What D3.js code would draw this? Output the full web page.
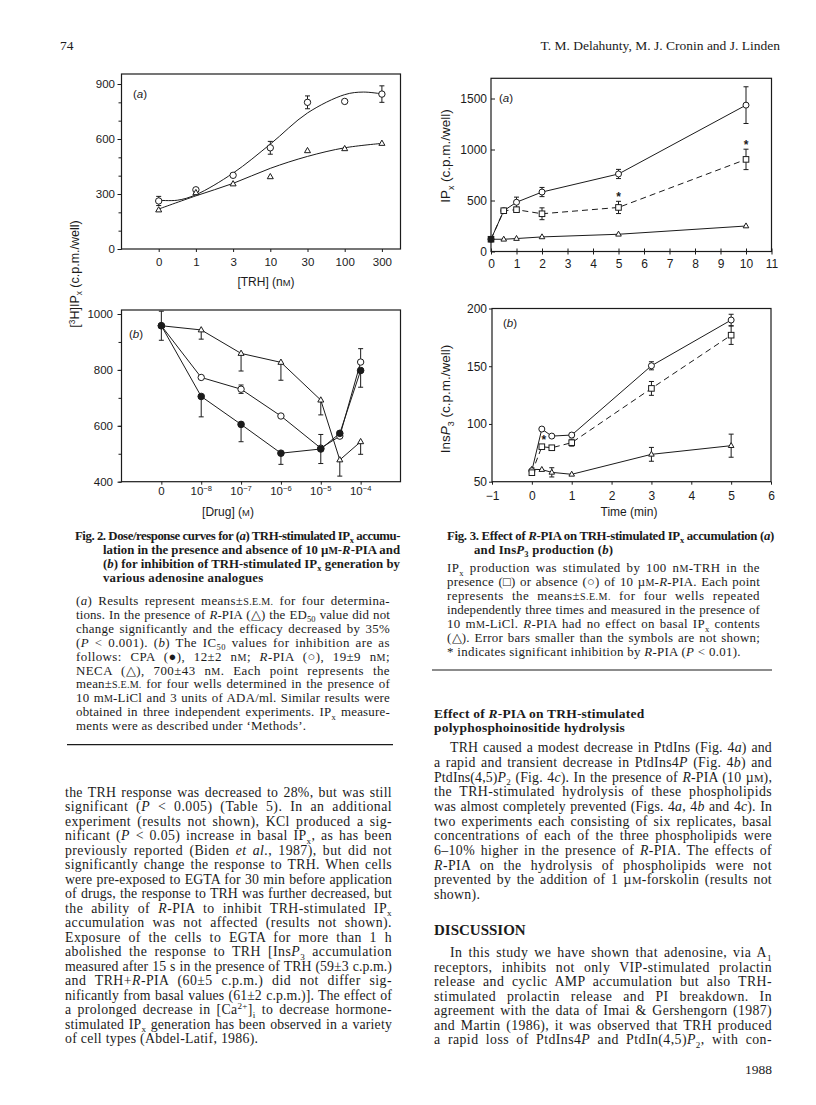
<!DOCTYPE html>
<html><head><meta charset="utf-8">
<script src="https://cdn.jsdelivr.net/npm/d3@7"></script>
<style>
body{margin:0;background:#fff}
svg{display:block;background:#fff}
</style></head><body><svg id="page" width="816" height="1105"></svg>
<script>
// ---------------- DATA ----------------
// Fig. 2a : [TRH] (nM) categories
const fig2aCategories = ["0", "1", "3", "10", "30", "100", "300"];
const fig2aTRH = [262, 323, 402, 552, 800, 805, 845];
const fig2aTRHErr = [25, 0, 0, 35, 35, 0, 45];
const fig2aRPIA = [213, 307, 355, 394, 536, 547, 576];
// fitted curves (category-index position, value)
const fig2aTRHFitPos = [0, 0.5, 1, 2, 3, 4, 5, 5.5, 6];
const fig2aTRHFitVal = [266, 266, 296, 414, 572, 742, 842, 856, 846];
const fig2aRPIAFitPos = [0, 1, 2, 3, 4, 5, 6];
const fig2aRPIAFitVal = [218, 290, 358, 440, 505, 552, 576];
const fig2aYTicks = [0, 300, 600, 900];

// Fig. 2b : [Drug] (M)
const fig2bDoses = [0, 1e-8, 1e-7, 1e-6, 1e-5, 3e-5, 1e-4];
const fig2bTickDoses = [0, 1e-8, 1e-7, 1e-6, 1e-5, 1e-4];
const fig2bTickLabels = ["0", "10^(\u22128)", "10^(\u22127)", "10^(\u22126)", "10^(\u22125)", "10^(\u22124)"];
const fig2bCPA = [958, 705, 605, 502, 517, 573, 798];
const fig2bCPAErrUp = [52, 0, 0, 0, 52, 0, 0];
const fig2bCPAErrDown = [52, 73, 62, 40, 52, 0, 60];
const fig2bRPIA = [958, 773, 731, 635, 520, 563, 828];
const fig2bRPIAErrUp = [0, 0, 15, 0, 0, 0, 48];
const fig2bRPIAErrDown = [0, 0, 15, 0, 0, 0, 0];
const fig2bNECA = [958, 943, 859, 827, 692, 478, 543];
const fig2bNECAErrUp = [0, 0, 0, 0, 0, 0, 0];
const fig2bNECAErrDown = [0, 33, 63, 64, 53, 58, 45];
const fig2bYTicks = [400, 600, 800, 1000];

// Fig. 3a : IPx vs time (min)
const fig3aTime = [0, 0.5, 1, 2, 5, 10];
const fig3aTRH = [120, 400, 483, 583, 760, 1435];
const fig3aTRHErr = [0, 0, 50, 45, 45, 180];
const fig3aRPIA = [120, 400, 410, 370, 432, 903];
const fig3aRPIAErr = [0, 0, 20, 58, 60, 100];
const fig3aBasal = [120, 120, 127, 143, 169, 250];
const fig3aStarTime = [5, 10];
const fig3aStarVal = [553, 1060];
const fig3aXTicks = [0, 1, 2, 3, 4, 5, 6, 7, 8, 9, 10, 11];
const fig3aYTicks = [0, 500, 1000, 1500];

// Fig. 3b : InsP3 vs time (min)
const fig3bTime = [0, 0.25, 0.5, 1, 3, 5];
const fig3bTRH = [59.5, 95.6, 89.5, 90.4, 150.4, 190];
const fig3bTRHErr = [0, 0, 0, 1.5, 3.5, 5];
const fig3bRPIA = [57.8, 80.3, 79.4, 83.8, 130.8, 176.9];
const fig3bRPIAErr = [0, 0, 0, 3, 6, 8];
const fig3bBasal = [60.7, 60.5, 58.1, 56.4, 73.7, 81.2];
const fig3bBasalErr = [0, 0, 4, 0, 6, 10];
const fig3bStarTime = [0.3];
const fig3bStarVal = [88];
const fig3bXTicks = [-1, 0, 1, 2, 3, 4, 5, 6];
const fig3bYTicks = [50, 100, 150, 200];

// ---------------- TEXT ----------------
// markup: {italic}  _(sub)  ^(sup)  ~small caps~
const headerLeft = "74";
const headerRight = "T. M. Delahunty, M. J. Cronin and J. Linden";
const fig2CaptionBold = [
  "Fig. 2. Dose/response curves for ({a}) TRH-stimulated IP_(x) accumu-",
  "lation in the presence and absence of 10 \u00b5~M~-{R}-PIA and",
  "({b}) for inhibition of TRH-stimulated IP_(x) generation by",
  "various adenosine analogues"
];
const fig2CaptionBody = [
  "({a}) Results represent means\u00b1~S.E.M.~ for four determina-",
  "tions. In the presence of {R}-PIA (\u25b3) the ED_(50) value did not",
  "change significantly and the efficacy decreased by 35%",
  "({P} < 0.001). ({b}) The IC_(50) values for inhibition are as",
  "follows: CPA (\u25cf), 12\u00b12 n~M~; {R}-PIA (\u25cb), 19\u00b19 n~M~;",
  "NECA (\u25b3), 700\u00b143 n~M~. Each point represents the",
  "mean\u00b1~S.E.M.~ for four wells determined in the presence of",
  "10 m~M~-LiCl and 3 units of ADA/ml. Similar results were",
  "obtained in three independent experiments. IP_(x) measure-",
  "ments were as described under \u2018Methods\u2019."
];
const leftBody = [
  "the TRH response was decreased to 28%, but was still",
  "significant ({P} < 0.005) (Table 5). In an additional",
  "experiment (results not shown), KCl produced a sig-",
  "nificant ({P} < 0.05) increase in basal IP_(x), as has been",
  "previously reported (Biden {et al.}, 1987), but did not",
  "significantly change the response to TRH. When cells",
  "were pre-exposed to EGTA for 30 min before application",
  "of drugs, the response to TRH was further decreased, but",
  "the ability of {R}-PIA to inhibit TRH-stimulated IP_(x)",
  "accumulation was not affected (results not shown).",
  "Exposure of the cells to EGTA for more than 1 h",
  "abolished the response to TRH [Ins{P}_(3) accumulation",
  "measured after 15 s in the presence of TRH (59\u00b13 c.p.m.)",
  "and TRH+{R}-PIA (60\u00b15 c.p.m.) did not differ sig-",
  "nificantly from basal values (61\u00b12 c.p.m.)]. The effect of",
  "a prolonged decrease in [Ca^(2+)]_(i) to decrease hormone-",
  "stimulated IP_(x) generation has been observed in a variety",
  "of cell types (Abdel-Latif, 1986)."
];
const fig3CaptionBold = [
  "Fig. 3. Effect of {R}-PIA on TRH-stimulated IP_(x) accumulation ({a})",
  "and Ins{P}_(3) production ({b})"
];
const fig3CaptionBody = [
  "IP_(x) production was stimulated by 100 n~M~-TRH in the",
  "presence (\u25a1) or absence (\u25cb) of 10 \u00b5~M~-{R}-PIA. Each point",
  "represents the means\u00b1~S.E.M.~ for four wells repeated",
  "independently three times and measured in the presence of",
  "10 m~M~-LiCl. {R}-PIA had no effect on basal IP_(x) contents",
  "(\u25b3). Error bars smaller than the symbols are not shown;",
  "* indicates significant inhibition by {R}-PIA ({P} < 0.01)."
];
const sectionHeading = [
  "Effect of {R}-PIA on TRH-stimulated",
  "polyphosphoinositide hydrolysis"
];
const sectionBody = [
  "TRH caused a modest decrease in PtdIns (Fig. 4{a}) and",
  "a rapid and transient decrease in PtdIns4{P} (Fig. 4{b}) and",
  "PtdIns(4,5){P}_(2) (Fig. 4{c}). In the presence of {R}-PIA (10 \u00b5~M~),",
  "the TRH-stimulated hydrolysis of these phospholipids",
  "was almost completely prevented (Figs. 4{a}, 4{b} and 4{c}). In",
  "two experiments each consisting of six replicates, basal",
  "concentrations of each of the three phospholipids were",
  "6\u201310% higher in the presence of {R}-PIA. The effects of",
  "{R}-PIA on the hydrolysis of phospholipids were not",
  "prevented by the addition of 1 \u00b5~M~-forskolin (results not",
  "shown)."
];
const discussionHeading = "DISCUSSION";
const discussionBody = [
  "In this study we have shown that adenosine, via A_(1)",
  "receptors, inhibits not only VIP-stimulated prolactin",
  "release and cyclic AMP accumulation but also TRH-",
  "stimulated prolactin release and PI breakdown. In",
  "agreement with the data of Imai & Gershengorn (1987)",
  "and Martin (1986), it was observed that TRH produced",
  "a rapid loss of PtdIns4{P} and PtdIn(4,5){P}_(2), with con-"
];
const pageNumber = "1988";

// ---------------- HELPERS ----------------
const INK = "#1b1b1b";
const SERIF = '"Liberation Serif","Times New Roman",serif';
const SANS = '"Liberation Sans",Arial,Helvetica,sans-serif';
const svg = d3.select("#page");

function rich(parent, str, x, y, o) {
  o = o || {};
  const fs = o.size || 13;
  const t = parent.append("text").attr("x", x).attr("y", y)
    .attr("fill", INK)
    .style("font-family", o.family || SERIF)
    .style("font-size", fs + "px");
  if (o.bold) t.style("font-weight", "bold");
  if (o.anchor) t.attr("text-anchor", o.anchor);
  if (o.transform) t.attr("transform", o.transform);
  const parts = str.split(/(\{[^}]*\}|_\([^)]*\)|\^\([^)]*\)|~[^~]*~)/).filter(p => p.length);
  let shift = 0;
  for (const p of parts) {
    let txt = p, italic = false, size = null, target = 0;
    if (/^\{.*\}$/.test(p)) { txt = p.slice(1, -1); italic = true; }
    else if (/^_\(.*\)$/.test(p)) { txt = p.slice(2, -1); size = fs * 0.66; target = fs * 0.26; }
    else if (/^\^\(.*\)$/.test(p)) { txt = p.slice(2, -1); size = fs * 0.66; target = -fs * 0.36; }
    else if (/^~.*~$/.test(p)) { txt = p.slice(1, -1).toUpperCase(); size = fs * 0.78; }
    const ts = t.append("tspan").text(txt);
    if (italic) ts.style("font-style", "italic");
    if (size) ts.style("font-size", size + "px");
    if (target !== shift) { ts.attr("dy", target - shift); shift = target; }
  }
  return t;
}

// justify: spread part of the slack as letter spacing (wide old type), the rest between words
function justify(t, width, lsMax) {
  const txt = t.text();
  const nChars = txt.length;
  const n = (txt.trim().match(/ /g) || []).length;
  let extra = width - t.node().getComputedTextLength();
  if (extra > 0) {
    const ls = Math.min(lsMax, extra * 0.55 / nChars);
    t.attr("letter-spacing", ls);
    extra = width - t.node().getComputedTextLength();
    if (n > 0) t.attr("word-spacing", extra / n);
  } else {
    if (n > 0 && extra > -n * 0.8) t.attr("word-spacing", extra / n);
    else t.attr("letter-spacing", extra / nChars);
  }
}

function block(lines, o) {
  const lsMax = o.lsMax != null ? o.lsMax : 0.45;
  lines.forEach((ln, i) => {
    const x = i === 0 ? (o.firstX != null ? o.firstX : o.x0) : (o.restX != null ? o.restX : o.x0);
    const t = rich(svg, ln, x, o.y0 + i * o.step, { size: o.size, bold: o.bold });
    const last = i === lines.length - 1;
    if (!o.noJustify && (!last || o.justifyLast)) justify(t, o.x1 - x, lsMax);
    else t.attr("letter-spacing", o.lsPlain != null ? o.lsPlain : 0.3);
  });
}

function markers(g, type, xs, ys, r, filledFn) {
  const idx = d3.range(xs.length);
  const sel = g.selectAll(null).data(idx);
  let m;
  if (type === "circle") {
    m = sel.join("circle").attr("cx", i => xs[i]).attr("cy", i => ys[i]).attr("r", r);
  } else if (type === "square") {
    m = sel.join("rect").attr("x", i => xs[i] - r).attr("y", i => ys[i] - r)
      .attr("width", 2 * r).attr("height", 2 * r);
  } else {
    m = sel.join("path").attr("d", i => {
      const x = xs[i], y = ys[i];
      return `M${x},${y - r * 1.1}L${x + r},${y + r * 0.65}L${x - r},${y + r * 0.65}Z`;
    });
  }
  m.attr("fill", i => (filledFn && filledFn(i)) ? INK : "#fff").attr("stroke", INK).attr("stroke-width", 1);
}

function errorBars(g, xs, vals, up, down, y, cap) {
  const idx = d3.range(xs.length).filter(i => (up[i] || 0) > 0 || (down[i] || 0) > 0);
  idx.forEach(i => {
    const yt = y(vals[i] + (up[i] || 0)), yb = y(vals[i] - (down[i] || 0));
    g.append("line").attr("x1", xs[i]).attr("x2", xs[i]).attr("y1", yt).attr("y2", yb)
      .attr("stroke", INK).attr("stroke-width", 1);
    if (up[i] > 0) g.append("line").attr("x1", xs[i] - cap).attr("x2", xs[i] + cap)
      .attr("y1", yt).attr("y2", yt).attr("stroke", INK).attr("stroke-width", 1);
    if (down[i] > 0) g.append("line").attr("x1", xs[i] - cap).attr("x2", xs[i] + cap)
      .attr("y1", yb).attr("y2", yb).attr("stroke", INK).attr("stroke-width", 1);
  });
}

function seriesLine(g, xs, ys, dashed, curve) {
  const line = d3.line().x(d => d[0]).y(d => d[1]);
  if (curve) line.curve(curve);
  g.append("path").attr("d", line(xs.map((x, i) => [x, ys[i]])))
    .attr("fill", "none").attr("stroke", INK).attr("stroke-width", 1)
    .attr("stroke-dasharray", dashed ? "6,4" : null);
}

function frame(g, x0, y0, x1, y1) {
  g.append("rect").attr("x", x0).attr("y", y0).attr("width", x1 - x0).attr("height", y1 - y0)
    .attr("fill", "none").attr("stroke", INK).attr("stroke-width", 1.2);
}

function styleAxis(g, fs) {
  g.attr("font-family", null).attr("font-size", null);
  g.select(".domain").remove();
  g.selectAll(".tick line").attr("stroke", INK).attr("stroke-width", 1);
  g.selectAll(".tick text").attr("fill", INK).style("font-family", SANS).style("font-size", fs + "px");
}

function star(g, x, y) {
  g.append("text").attr("x", x).attr("y", y + 6).attr("text-anchor", "middle")
    .attr("fill", INK).style("font-family", SANS).style("font-size", "12px").style("font-weight", "bold").text("*");
}

const plain = d3.format("d");

// ---------------- FIG 2a ----------------
{
  const g = svg.append("g");
  const x = d3.scaleLinear().domain([-1, 6.5]).range([121.5, 400.5]);
  const y = d3.scaleLinear().domain([0, 900]).range([249, 84]);
  frame(g, x(-1), 74, x(6.5), y(0));
  const ax = g.append("g").attr("transform", `translate(0,${y(0)})`)
    .call(d3.axisBottom(x).tickValues(d3.range(fig2aCategories.length)).tickFormat(i => fig2aCategories[i]).tickSize(3));
  styleAxis(ax, 11.5);
  ax.selectAll(".tick text").attr("y", 12.7).attr("dy", "0.35em");
  const ayMinor = g.append("g").attr("transform", `translate(${x(-1)},0)`)
    .call(d3.axisLeft(y).tickValues(d3.range(0, 901, 100)).tickFormat("").tickSize(3));
  styleAxis(ayMinor, 11);
  const ay = g.append("g").attr("transform", `translate(${x(-1)},0)`)
    .call(d3.axisLeft(y).tickValues(fig2aYTicks).tickFormat(plain).tickSize(4));
  styleAxis(ay, 11.5);
  ay.selectAll(".tick text").attr("x", -6.5);
  seriesLine(g, fig2aTRHFitPos.map(x), fig2aTRHFitVal.map(y), false, d3.curveCatmullRom);
  seriesLine(g, fig2aRPIAFitPos.map(x), fig2aRPIAFitVal.map(y), false, d3.curveCatmullRom);
  const xs = fig2aCategories.map((c, i) => x(i));
  errorBars(g, xs, fig2aTRH, fig2aTRHErr, fig2aTRHErr, y, 2.5);
  markers(g, "circle", xs, fig2aTRH.map(y), 3.2);
  markers(g, "triangle", xs, fig2aRPIA.map(y), 3);
  rich(g, "({a})", 133, 98, { family: SANS, size: 11.5 });
  rich(g, "[TRH] (n~M~)", 266, 286, { family: SANS, size: 12, anchor: "middle" });
}

// ---------------- FIG 2b ----------------
{
  const g = svg.append("g");
  const pos = d => d === 0 ? 0 : Math.log10(d) + 9;
  const x = d3.scaleLinear().domain([-1, 6]).range([121.5, 400.5]);
  const y = d3.scaleLinear().domain([400, 1000]).range([481.7, 314]);
  frame(g, x(-1), 310, x(6), y(400));
  const ax = g.append("g").attr("transform", `translate(0,${y(400)})`)
    .call(d3.axisBottom(x).tickValues(fig2bTickDoses.map(pos)).tickFormat("").tickSize(3));
  styleAxis(ax, 11.5);
  fig2bTickDoses.forEach((d, i) => {
    rich(g, fig2bTickLabels[i], x(pos(d)), y(400) + 13, { family: SANS, size: 11.5, anchor: "middle" });
  });
  const ayMinor = g.append("g").attr("transform", `translate(${x(-1)},0)`)
    .call(d3.axisLeft(y).tickValues(d3.range(400, 1001, 100)).tickFormat("").tickSize(3));
  styleAxis(ayMinor, 11);
  const ay = g.append("g").attr("transform", `translate(${x(-1)},0)`)
    .call(d3.axisLeft(y).tickValues(fig2bYTicks).tickFormat(plain).tickSize(4));
  styleAxis(ay, 11.5);
  ay.selectAll(".tick text").attr("x", -8.5);
  const xs = fig2bDoses.map(d => x(pos(d)));
  seriesLine(g, xs, fig2bNECA.map(y), false);
  seriesLine(g, xs, fig2bRPIA.map(y), false);
  seriesLine(g, xs, fig2bCPA.map(y), false);
  errorBars(g, xs, fig2bNECA, fig2bNECAErrUp, fig2bNECAErrDown, y, 2.5);
  errorBars(g, xs, fig2bRPIA, fig2bRPIAErrUp, fig2bRPIAErrDown, y, 2.5);
  errorBars(g, xs, fig2bCPA, fig2bCPAErrUp, fig2bCPAErrDown, y, 2.5);
  markers(g, "triangle", xs, fig2bNECA.map(y), 3);
  markers(g, "circle", xs, fig2bRPIA.map(y), 3.2);
  markers(g, "circle", xs, fig2bCPA.map(y), 3.3, () => true);
  rich(g, "({b})", 129, 338, { family: SANS, size: 11.5 });
  rich(g, "[Drug] (~M~)", 228, 516, { family: SANS, size: 12, anchor: "middle" });
}
// shared y label for Fig 2
rich(svg, "[^(3)H]IP_(x) (c.p.m./well)", 0, 0, { family: SANS, size: 12.5, anchor: "middle", transform: "translate(79,274) rotate(-90)" });

// ---------------- FIG 3a ----------------
{
  const g = svg.append("g");
  const x = d3.scaleLinear().domain([0, 11]).range([491, 771.5]);
  const y = d3.scaleLinear().domain([0, 1500]).range([251.5, 98.5]);
  frame(g, x(0), 78.3, x(11), y(0));
  const ax = g.append("g").attr("transform", `translate(0,${y(0)})`)
    .call(d3.axisBottom(x).tickValues(fig3aXTicks).tickFormat(plain).tickSize(3));
  styleAxis(ax, 12);
  ax.selectAll(".tick line").attr("y1", -3).attr("y2", 3);
  ax.selectAll(".tick text").attr("y", 12).attr("dy", "0.35em");
  const ay = g.append("g").attr("transform", `translate(${x(0)},0)`)
    .call(d3.axisLeft(y).tickValues(fig3aYTicks).tickFormat(plain).tickSize(-4));
  styleAxis(ay, 12);
  ay.selectAll(".tick text").attr("x", -4);
  const xs = fig3aTime.map(x);
  seriesLine(g, xs, fig3aBasal.map(y), false);
  seriesLine(g, xs, fig3aRPIA.map(y), true);
  seriesLine(g, xs, fig3aTRH.map(y), false);
  errorBars(g, xs, fig3aTRH, fig3aTRHErr, fig3aTRHErr, y, 2.5);
  errorBars(g, xs, fig3aRPIA, fig3aRPIAErr, fig3aRPIAErr, y, 2.5);
  markers(g, "triangle", xs, fig3aBasal.map(y), 2.8);
  markers(g, "circle", xs, fig3aTRH.map(y), 3);
  markers(g, "square", xs, fig3aRPIA.map(y), 2.8, i => i === 0);
  fig3aStarTime.forEach((t, i) => star(g, x(t), y(fig3aStarVal[i])));
  rich(g, "({a})", 499, 102, { family: SANS, size: 11.5 });
  rich(svg, "IP_(x) (c.p.m./well)", 0, 0, { family: SANS, size: 13.5, anchor: "middle", transform: "translate(450,156) rotate(-90)" });
}

// ---------------- FIG 3b ----------------
{
  const g = svg.append("g");
  const x = d3.scaleLinear().domain([-1, 6]).range([492, 771]);
  const y = d3.scaleLinear().domain([50, 200]).range([481.7, 308.5]);
  frame(g, x(-1), y(200), x(6), y(50));
  const ax = g.append("g").attr("transform", `translate(0,${y(50)})`)
    .call(d3.axisBottom(x).tickValues(fig3bXTicks).tickFormat(v => v < 0 ? "\u2212" + Math.abs(v) : v).tickSize(3));
  styleAxis(ax, 12);
  ax.selectAll(".tick text").attr("y", 14).attr("dy", "0.35em");
  const ay = g.append("g").attr("transform", `translate(${x(-1)},0)`)
    .call(d3.axisLeft(y).tickValues(fig3bYTicks).tickFormat(plain).tickSize(3));
  styleAxis(ay, 12);
  ay.selectAll(".tick text").attr("x", -5);
  const xs = fig3bTime.map(x);
  seriesLine(g, xs, fig3bBasal.map(y), false);
  seriesLine(g, xs, fig3bRPIA.map(y), true);
  seriesLine(g, xs, fig3bTRH.map(y), false);
  errorBars(g, xs, fig3bTRH, fig3bTRHErr, fig3bTRHErr, y, 2.5);
  errorBars(g, xs, fig3bRPIA, fig3bRPIAErr, fig3bRPIAErr, y, 2.5);
  errorBars(g, xs, fig3bBasal, fig3bBasalErr, fig3bBasalErr, y, 2.5);
  markers(g, "triangle", xs, fig3bBasal.map(y), 2.8);
  markers(g, "circle", xs, fig3bTRH.map(y), 3);
  markers(g, "square", xs, fig3bRPIA.map(y), 2.8);
  fig3bStarTime.forEach((t, i) => star(g, x(t), y(fig3bStarVal[i])));
  rich(g, "({b})", 503, 327, { family: SANS, size: 11.5 });
  rich(g, "Time (min)", 629, 516, { family: SANS, size: 12, anchor: "middle" });
  rich(svg, "Ins{P}_(3) (c.p.m./well)", 0, 0, { family: SANS, size: 13.5, anchor: "middle", transform: "translate(450,399) rotate(-90)" });
}

// ---------------- PAGE TEXT ----------------
rich(svg, headerLeft, 60, 50, { size: 13.5 });
rich(svg, headerRight, 780, 50, { size: 13.5, anchor: "end" });

block(fig2CaptionBold, { x0: 75, firstX: 75, restX: 103, x1: 400, y0: 540, step: 14, size: 12.8, bold: true, lsMax: 0.3, lsPlain: 0.2 });
block(fig2CaptionBody, { x0: 76, x1: 390, y0: 605, step: 13.9, size: 12.9 });
svg.append("line").attr("x1", 67).attr("x2", 393).attr("y1", 744.7).attr("y2", 744.7).attr("stroke", INK).attr("stroke-width", 1.2);
block(leftBody, { x0: 65, x1: 392, y0: 796.7, step: 14.49, size: 13.8 });

block(fig3CaptionBold, { x0: 447, firstX: 447, restX: 474, x1: 774, y0: 540, step: 14, size: 12.8, bold: true, lsMax: 0.3, lsPlain: 0.2 });
block(fig3CaptionBody, { x0: 447, x1: 760, y0: 572.3, step: 14, size: 12.9 });
svg.append("line").attr("x1", 432).attr("x2", 772).attr("y1", 670).attr("y2", 670).attr("stroke", INK).attr("stroke-width", 1.2);

block(sectionHeading, { x0: 434, x1: 772, y0: 718, step: 14.3, size: 13.5, bold: true, noJustify: true, lsPlain: 0.2 });
block(sectionBody, { x0: 434, firstX: 450, x1: 772, y0: 752.3, step: 14.67, size: 13.8 });
rich(svg, discussionHeading, 434, 934.5, { size: 15, bold: true });
block(discussionBody, { x0: 434, firstX: 450, x1: 772, y0: 957.3, step: 14.45, size: 13.8, justifyLast: true });
rich(svg, pageNumber, 772, 1074, { size: 13.5, anchor: "end" });
</script></body></html>
